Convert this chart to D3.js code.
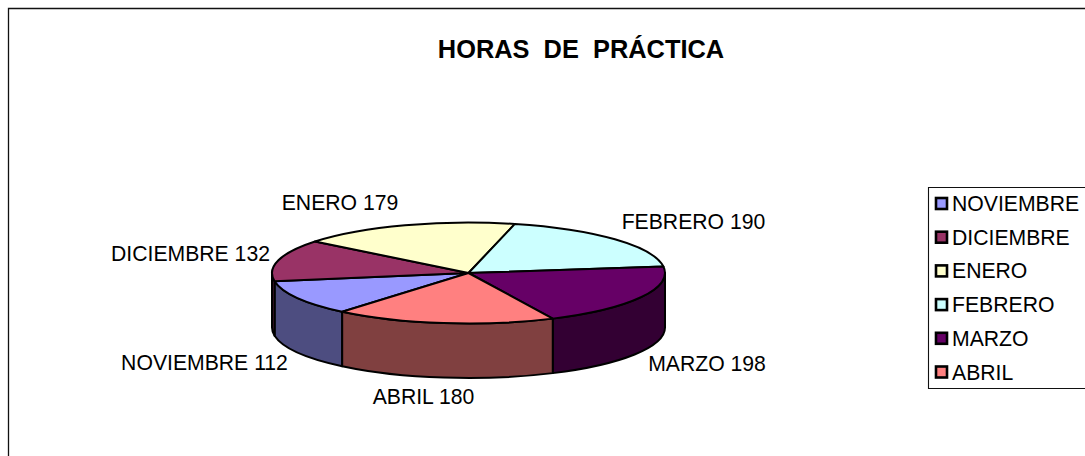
<!DOCTYPE html>
<html>
<head>
<meta charset="utf-8">
<script src="https://cdn.jsdelivr.net/npm/d3@7"></script>
<style>
  html, body { margin: 0; padding: 0; background: #fff; }
  svg { display: block; }
  text { font-family: "Liberation Sans", Arial, sans-serif; fill: #000; white-space: pre; }
</style>
</head>
<body>
<svg id="chart"></svg>
<script>
var months = ['NOVIEMBRE', 'DICIEMBRE', 'ENERO', 'FEBRERO', 'MARZO', 'ABRIL'];
var hours = [112, 132, 179, 190, 198, 180];
var topColors = ['#9999ff', '#993366', '#ffffcc', '#ccffff', '#660066', '#ff8080'];
var sideColors = ['#4d4d80', '#4d1a33', '#80806a', '#668080', '#330033', '#804040'];
var chartTitle = 'HORAS  DE  PRÁCTICA';

// label centres, placed by hand like the original
var labelX = [204.5, 190.5, 340, 693.5, 707, 423.5];
var labelY = [363, 254, 203, 222, 364, 397];

var width = 1085;
var height = 456;
var cx = 468.5;
var cy = 273;
var rx = 196.5;
var ry = 50.5;
var depth = 54.5;
var startDeg = 220;
var labelSize = '21.2px';

var svg = d3.select('#chart')
  .attr('width', width)
  .attr('height', height);

// outer frame, open on the right and at the bottom
svg.append('path')
  .attr('d', 'M8.5,' + height + 'V8.5H' + width)
  .attr('fill', 'none')
  .attr('stroke', '#111')
  .attr('stroke-width', 1.3);

svg.append('text')
  .attr('x', 581)
  .attr('y', 58)
  .attr('text-anchor', 'middle')
  .style('font-size', '25.4px')
  .style('font-weight', 'bold')
  .text(chartTitle);

var start = startDeg * Math.PI / 180;
var pie = d3.pie().sort(null).startAngle(start).endAngle(start + 2 * Math.PI);
var slices = pie(hours);

var px = function(a) { return cx + rx * Math.sin(a); };
var py = function(a) { return cy - ry * Math.cos(a); };

// front wall: only the stretch between 90 and 270 degrees shows
var walls = svg.append('g');
slices.forEach(function(s, i) {
  [0, 2 * Math.PI].forEach(function(shift) {
    var a0 = Math.max(s.startAngle - shift, Math.PI / 2);
    var a1 = Math.min(s.endAngle - shift, 3 * Math.PI / 2);
    if (a1 <= a0) return;
    walls.append('path')
      .attr('d', 'M' + px(a0) + ',' + py(a0)
        + 'A' + rx + ',' + ry + ' 0 0 1 ' + px(a1) + ',' + py(a1)
        + 'L' + px(a1) + ',' + (py(a1) + depth)
        + 'A' + rx + ',' + ry + ' 0 0 0 ' + px(a0) + ',' + (py(a0) + depth) + 'Z')
      .attr('fill', sideColors[i])
      .attr('stroke', '#000')
      .attr('stroke-width', 2)
      .attr('stroke-linejoin', 'round');
  });
});

var arc = d3.arc().innerRadius(0).outerRadius(rx);

svg.append('g')
  .attr('transform', 'translate(' + cx + ',' + cy + ') scale(1,' + (ry / rx) + ')')
  .selectAll('path')
  .data(slices)
  .join('path')
  .attr('d', arc)
  .attr('fill', function(d, i) { return topColors[i]; })
  .attr('stroke', '#000')
  .attr('stroke-width', 2)
  .attr('stroke-linejoin', 'round')
  .attr('vector-effect', 'non-scaling-stroke');

svg.append('g')
  .selectAll('text')
  .data(months)
  .join('text')
  .attr('x', function(d, i) { return labelX[i]; })
  .attr('y', function(d, i) { return labelY[i] + 7; })
  .attr('text-anchor', 'middle')
  .style('font-size', labelSize)
  .text(function(d, i) { return d + ' ' + hours[i]; });

// legend
var legend = svg.append('g');
legend.append('path')
  .attr('d', 'M' + width + ',187.5H928.5V388.5H' + width)
  .attr('fill', 'none')
  .attr('stroke', '#111')
  .attr('stroke-width', 1.1);

var legendY = d3.scalePoint().domain(months).range([203.5, 372]);

var rows = legend.selectAll('g')
  .data(months)
  .join('g')
  .attr('transform', function(d) { return 'translate(0,' + legendY(d) + ')'; });

rows.append('rect')
  .attr('x', 936)
  .attr('y', -5.5)
  .attr('width', 11)
  .attr('height', 11)
  .attr('fill', function(d, i) { return topColors[i]; })
  .attr('stroke', '#000')
  .attr('stroke-width', 2.6);

rows.append('text')
  .attr('x', 952)
  .attr('y', 7.5)
  .style('font-size', labelSize)
  .text(function(d) { return d; });
</script>
</body>
</html>
